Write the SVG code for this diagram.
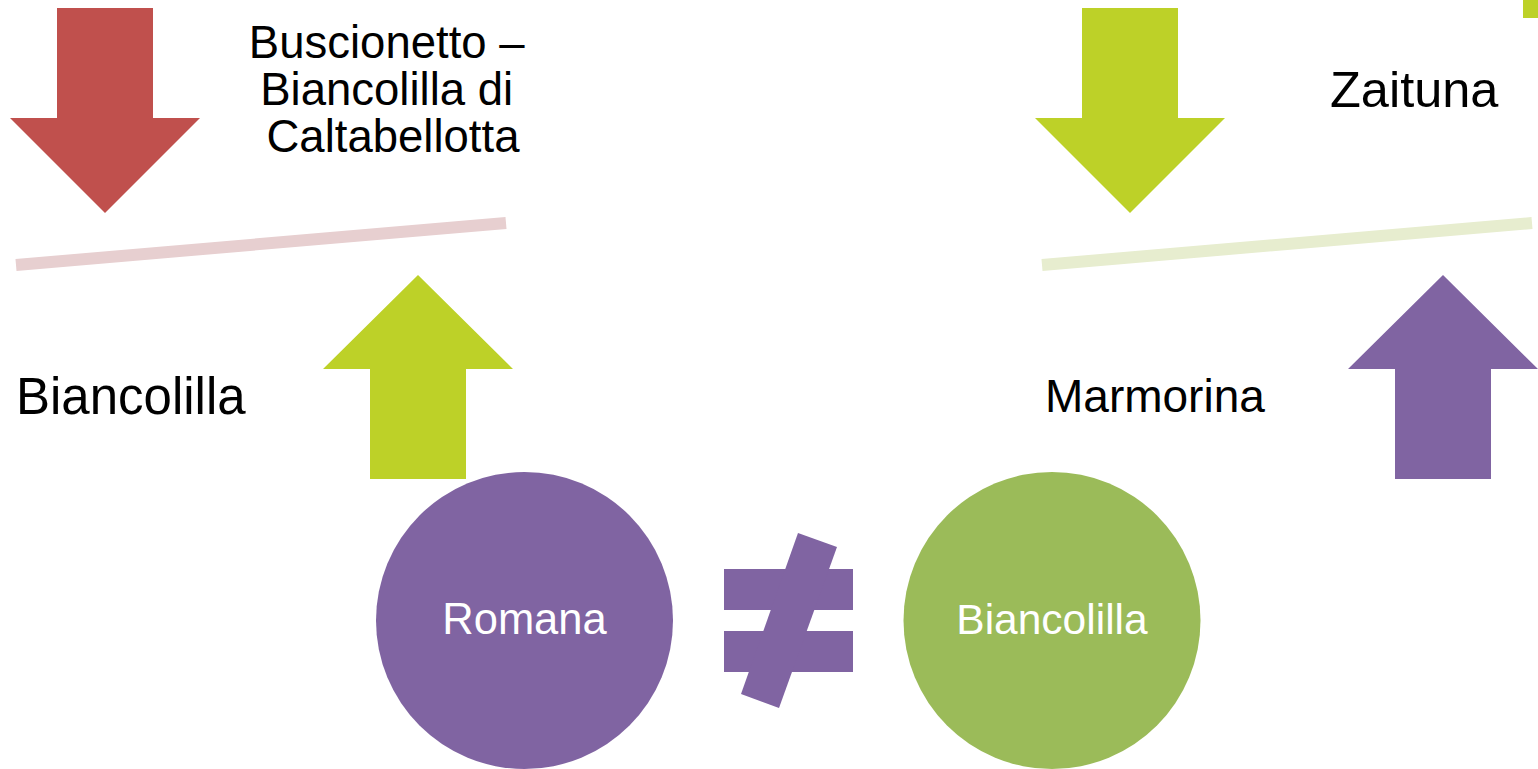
<svg xmlns="http://www.w3.org/2000/svg" width="1538" height="769" viewBox="0 0 1538 769">
<style>
text{font-family:"Liberation Sans",Arial,sans-serif;}
.lbl{fill:#000;}
.wt{fill:#fff;text-anchor:middle;}
.red{fill:#C0504D;}
.lime{fill:#BDD128;}
.purple{fill:#8064A2;}
.olive{fill:#9BBB59;}
</style>
<rect width="1538" height="769" fill="#fff"/>
<rect class="lime" x="1523" y="0" width="15" height="18"/>
<g id="connectors">
<line x1="16" y1="265" x2="506" y2="223" stroke="#E7CFD0" stroke-width="12"/>
<line x1="1042" y1="265" x2="1532" y2="223" stroke="#E7EDCF" stroke-width="12"/>
</g>
<g id="arrow-red-down">
<polygon class="red" points="57,8 153,8 153,118 200,118 105,213 10,118 57,118"/>
</g>
<g id="arrow-lime-up">
<polygon class="lime" points="418,275 513,369 466,369 466,479 370,479 370,369 323,369"/>
</g>
<g id="arrow-lime-down">
<polygon class="lime" points="1082,8 1178,8 1178,118 1225,118 1130,213 1035,118 1082,118"/>
</g>
<g id="arrow-purple-up">
<polygon class="purple" points="1443,275 1538,369 1491,369 1491,479 1395,479 1395,369 1348,369"/>
</g>
<g id="label-buscionetto">
<text class="lbl" font-size="45.5" text-anchor="middle" x="393">
<tspan x="393" y="58">Buscionetto –</tspan>
<tspan x="393" y="105">Biancolilla di</tspan>
<tspan x="393" y="152">Caltabellotta</tspan>
</text>
</g>
<g id="label-biancolilla">
<text class="lbl" font-size="51" x="16" y="414">Biancolilla</text>
</g>
<g id="label-zaituna">
<text class="lbl" font-size="50.5" x="1330" y="107">Zaituna</text>
</g>
<g id="label-marmorina">
<text class="lbl" font-size="46" x="1045" y="412">Marmorina</text>
</g>
<g id="node-romana">
<circle class="purple" cx="524.5" cy="620.5" r="148.5"/>
<text class="wt" x="524.5" y="634" font-size="43.5">Romana</text>
</g>
<g id="not-equal">
<rect class="purple" x="724" y="569" width="129" height="41"/>
<rect class="purple" x="724" y="631" width="129" height="41"/>
<polygon class="purple" points="798,533 837,547 779,708 741,694"/>
</g>
<g id="node-biancolilla">
<circle class="olive" cx="1052" cy="620.5" r="148.5"/>
<text class="wt" x="1052" y="634" font-size="42.5">Biancolilla</text>
</g>
</svg>
